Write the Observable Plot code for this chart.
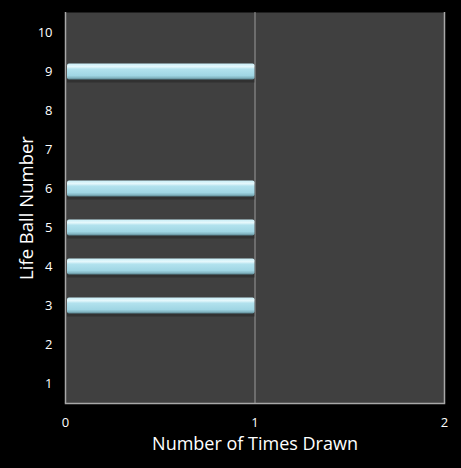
<!DOCTYPE html>
<html><head><meta charset="utf-8">
<script src="https://cdn.jsdelivr.net/npm/d3@7"></script>
<script src="https://cdn.jsdelivr.net/npm/@observablehq/plot@0.6"></script>
<style>
html,body{margin:0;padding:0;background:#000;}
</style>
</head><body>
<div id="chart"></div>
<script>
const ballNumbers = [1, 2, 3, 4, 5, 6, 7, 8, 9, 10];
const timesDrawn = [0, 0, 1, 1, 1, 1, 0, 0, 1, 0];
const xTicks = [0, 1, 2];

const data = ballNumbers.map((n, i) => ({ball: String(n), count: timesDrawn[i]}));
const font = "'Open Sans', 'DejaVu Sans', sans-serif";

const chart = Plot.plot({
  width: 461,
  height: 468,
  marginLeft: 65,
  marginRight: 17,
  marginTop: 12,
  marginBottom: 65,
  style: {background: "#000", color: "#fff", fontFamily: font, fontSize: "13px"},
  x: {domain: [0, 2], ticks: xTicks, tickFormat: "d"},
  y: {domain: ballNumbers.map(String).reverse(), padding: 0},
  marks: [
    Plot.frame({fill: "#404040", stroke: null}),
    Plot.ruleX([1], {stroke: "#9a9a9a", strokeWidth: 1}),
    Plot.ruleX([0, 2], {stroke: "#a8a8a8", strokeWidth: 1.5}),
    Plot.frame({anchor: "bottom", stroke: "#a8a8a8", strokeWidth: 1.5}),
    Plot.barX(data.filter(d => d.count > 0), {x: "count", y: "ball", fill: "#222", insetTop: 13, insetBottom: 10, dy: 1.5, insetLeft: 2, fillOpacity: 0.5}),
    Plot.barX(data.filter(d => d.count > 0), {x: "count", y: "ball", fill: "url(#barGrad)", insetTop: 11.5, insetBottom: 11.5, insetLeft: 2, rx: 2}),
    Plot.axisY({tickSize: 0, tickPadding: 13, label: null, fill: "#fff"}),
    Plot.axisX({ticks: xTicks, tickFormat: "d", tickSize: 0, tickPadding: 14, label: null, fill: "#fff"}),
    Plot.text(["Number of Times Drawn"], {frameAnchor: "bottom", dy: 46, fill: "#fff", fontSize: 18, fontFamily: font}),
    Plot.text(["Life Ball Number"], {frameAnchor: "left", textAnchor: "middle", dx: -38, rotate: -90, fill: "#fff", fontSize: 18.5, fontFamily: font})
  ]
});

const svg = d3.select(chart);
const defs = svg.insert("defs", ":first-child");
const g = defs.append("linearGradient").attr("id", "barGrad").attr("x1", 0).attr("y1", 0).attr("x2", 0).attr("y2", 1);
[[0, "#c8eef7"], [0.2, "#e6f8fc"], [0.35, "#b2e2ee"], [0.75, "#a0d6e4"], [0.88, "#86b9c6"], [1, "#5a8590"]]
  .forEach(([o, c]) => g.append("stop").attr("offset", o).attr("stop-color", c));

document.getElementById("chart").appendChild(chart);
</script>
</body></html>
